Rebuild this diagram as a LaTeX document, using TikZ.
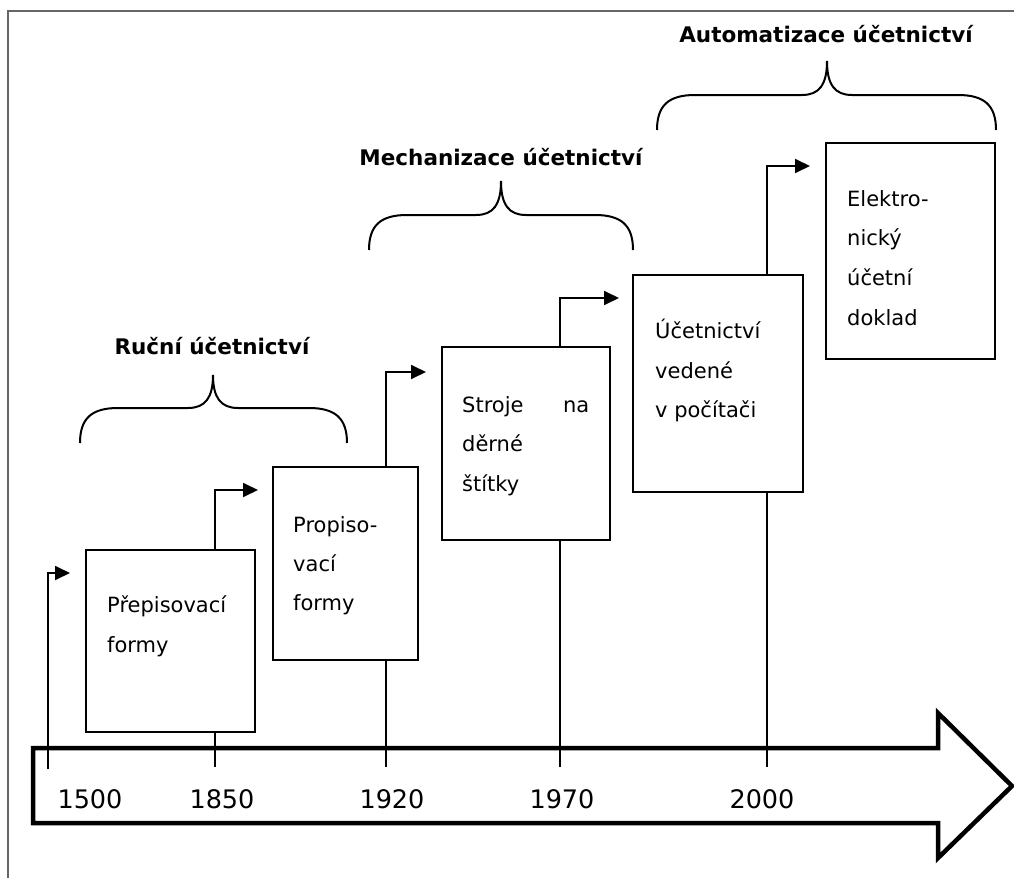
\documentclass[tikz,border=0pt]{standalone}
\usepackage{fontspec}
\setmainfont{DejaVu Sans}
\usetikzlibrary{arrows.meta}
\begin{document}
\begin{tikzpicture}[x=1pt,y=-1pt,
  frame/.style={draw=black!60,line width=1.4pt},
  bigarrow/.style={draw=black,line width=4.5pt,miter limit=10},
  box/.style={draw=black,line width=2.2pt,rectangle,inner sep=0pt},
  conn/.style={draw=black,line width=1.8pt},
  connarr/.style={conn,-{Triangle[length=15pt,width=14pt]}},
  brace/.style={draw=black,line width=2pt},
  txt/.style={anchor=base west,inner sep=0pt,font=\fontsize{21}{25}\selectfont,text=black},
  year/.style={anchor=base,inner sep=0pt,font=\fontsize{25.5}{30}\selectfont,text=black},
  title/.style={anchor=base,inner sep=0pt,font=\fontsize{21.5}{26}\selectfont\bfseries,text=black}]
\useasboundingbox (0,0) rectangle (1014,878);
% frame
\draw[frame] (8,878) -- (8,11) -- (1014,11);
% big arrow
\draw[bigarrow] (33,748) -- (938,748) -- (938,713) -- (1012,786) -- (938,858) -- (938,823) -- (33,823) -- cycle;
% boxes
\node[box,minimum width=169pt,minimum height=182pt] (b1) at (170.5,641) {};
\node[box,minimum width=145pt,minimum height=193pt] (b2) at (345.5,563.5) {};
\node[box,minimum width=168pt,minimum height=193pt] (b3) at (526,443.5) {};
\node[box,minimum width=170pt,minimum height=217pt] (b4) at (718,383.5) {};
\node[box,minimum width=169pt,minimum height=216pt] (b5) at (910.5,251) {};
% box texts
\node[txt] (p1) at (107,612) {Přepisovací};
\node[txt] (p2) at (107,652) {formy};
\node[txt] (q1) at (293,532) {Propiso-};
\node[txt] (q2) at (293,571) {vací};
\node[txt] (q3) at (293,610) {formy};
\node[txt] (s1) at (462,412) {\makebox[127pt][s]{Stroje\hfill na}};
\node[txt] (s2) at (462,451) {děrné};
\node[txt] (s3) at (462,491) {štítky};
\node[txt] (u1) at (655,338) {Účetnictví};
\node[txt] (u2) at (655,378) {vedené};
\node[txt] (u3) at (655,417) {v počítači};
\node[txt] (e1) at (847,206) {Elektro-};
\node[txt] (e2) at (847,245) {nický};
\node[txt] (e3) at (847,285) {účetní};
\node[txt] (e4) at (847,325) {doklad};
% years
\node[year] (y1) at (90,808) {1500};
\node[year] (y2) at (222,808) {1850};
\node[year] (y3) at (392,808) {1920};
\node[year] (y4) at (562,808) {1970};
\node[year] (y5) at (762,808) {2000};
% tick coordinates
\coordinate (t1) at (48,769);
\coordinate (t2) at (215,767);
\coordinate (t3) at (386,767);
\coordinate (t4) at (560,767);
\coordinate (t5) at (767,767);
\coordinate (a1) at (70,573);
\coordinate (a2) at (258,490);
\coordinate (a3) at (426,372);
\coordinate (a4) at (619,298);
\coordinate (a5) at (810,166);
% connectors
\draw[connarr] (t1) |- (a1);
\draw[conn] (t2) -- (b1.south -| t2);
\draw[connarr] (b1.north -| t2) |- (a2);
\draw[conn] (t3) -- (b2.south -| t3);
\draw[connarr] (b2.north -| t3) |- (a3);
\draw[conn] (t4) -- (b3.south -| t4);
\draw[connarr] (b3.north -| t4) |- (a4);
\draw[conn] (t5) -- (b4.south -| t5);
\draw[connarr] (b4.north -| t5) |- (a5);
% braces
\draw[brace] (80,443) .. controls (80,418) and (92,408) .. (118,408) -- (188,408)
  .. controls (205,408) and (213,398) .. (213,375)
  .. controls (213,398) and (221,408) .. (238,408) -- (309,408)
  .. controls (335,408) and (347,418) .. (347,443);
\draw[brace] (369,250) .. controls (369,225) and (381,215) .. (407,215) -- (476,215)
  .. controls (493,215) and (501,205) .. (501,181)
  .. controls (501,205) and (509,215) .. (526,215) -- (595,215)
  .. controls (621,215) and (633,225) .. (633,250);
\draw[brace] (657,130) .. controls (657,105) and (669,95) .. (695,95) -- (802,95)
  .. controls (819,95) and (827,85) .. (827,61)
  .. controls (827,85) and (835,95) .. (852,95) -- (958,95)
  .. controls (984,95) and (996,105) .. (996,130);
% titles
\node[title] (r) at (212,354) {Ruční účetnictví};
\node[title] (m) at (501,165) {Mechanizace účetnictví};
\node[title] (a) at (826,42) {Automatizace účetnictví};
\end{tikzpicture}
\end{document}
